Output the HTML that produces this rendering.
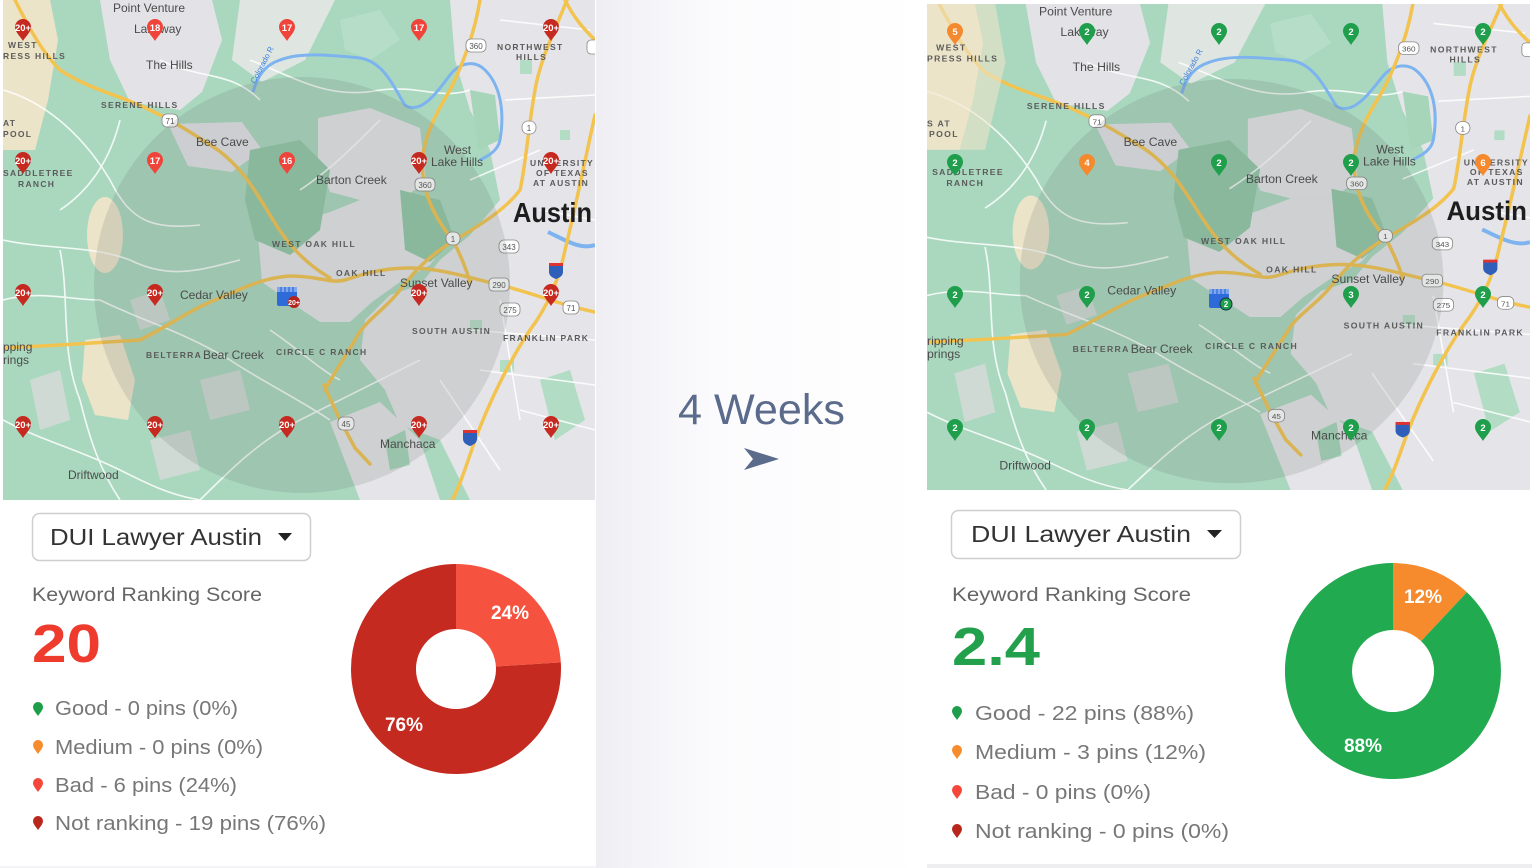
<!DOCTYPE html>
<html><head><meta charset="utf-8"><style>
html,body{margin:0;padding:0;background:#fff;}
svg{display:block;}
text{font-family:"Liberation Sans",Arial,sans-serif;}
.ml{font-size:12px;fill:#4b4b4b;}
.sc{font-size:8.5px;fill:#5b5b5b;font-weight:bold;letter-spacing:1.3px;}
.pt{font-size:9.5px;fill:#fff;font-weight:bold;text-anchor:middle;}
.sh{font-size:8px;fill:#555;text-anchor:middle;}
</style></head><body>
<svg width="1532" height="868" viewBox="0 0 1532 868" xmlns="http://www.w3.org/2000/svg">
<defs>
<linearGradient id="mid" x1="0" x2="1" y1="0" y2="0">
<stop offset="0" stop-color="#efeef3"/><stop offset="0.35" stop-color="#fbfbfd"/><stop offset="1" stop-color="#ffffff"/>
</linearGradient>
<clipPath id="mc" clipPathUnits="userSpaceOnUse"><rect x="3" y="0" width="592" height="500"/></clipPath>
<g id="shapes">
<rect x="3" y="0" width="592" height="500" fill="#aad8bf"/>
<!-- tan -->
<path d="M3,0 L50,0 L58,40 L48,100 L35,150 L3,150 Z" fill="#ece4c9"/>
<ellipse cx="105" cy="235" rx="18" ry="38" fill="#ece4c9"/>
<path d="M85,340 L120,335 L135,380 L128,420 L95,415 L82,380 Z" fill="#ece4c9"/>
<path d="M530,465 L565,455 L578,500 L525,500 Z" fill="#ece4c9"/>
<!-- gray urban -->
<path d="M450,0 L595,0 L595,500 L470,500 L455,470 L440,440 L400,425 L385,390 L360,360 L365,320 L390,295 L420,285 L440,260 L470,235 L500,200 L490,150 L470,110 L455,60 Z" fill="#e5e5e9"/>
<path d="M258,235 L300,222 L330,212 L360,200 L400,200 L430,220 L445,245 L430,265 L400,282 L372,302 L350,322 L320,322 L290,302 L262,282 Z" fill="#e5e5e9"/>
<path d="M318,118 L370,108 L420,128 L426,182 L400,200 L360,200 L330,192 L318,160 Z" fill="#e5e5e9"/>
<path d="M100,0 L212,0 L222,40 L202,92 L180,110 L130,102 L110,60 Z" fill="#e3e3e7"/>
<path d="M168,124 L242,122 L262,150 L232,172 L188,166 Z" fill="#e3e3e7"/>
<path d="M240,0 L335,0 L305,60 L262,82 L232,60 Z" fill="#dfe6e2"/>
<path d="M330,422 L380,402 L420,440 L440,500 L360,500 Z" fill="#e5e5e9"/>
<path d="M130,300 L160,290 L170,320 L140,330 Z" fill="#cfdad4"/>
<path d="M200,380 L240,370 L250,410 L210,420 Z" fill="#cfdad4"/>
<path d="M30,380 L60,370 L70,420 L40,430 Z" fill="#cfdad4"/>
<path d="M150,440 L190,430 L200,470 L160,480 Z" fill="#cfdad4"/>
<!-- green patches -->
<path d="M250,150 L300,140 L330,170 L320,230 L290,255 L255,240 L245,200 Z" fill="#93c8a8"/>
<path d="M400,190 L440,200 L455,240 L430,262 L405,250 Z" fill="#93c8a8"/>
<path d="M470,90 L495,95 L500,140 L478,150 Z" fill="#a6d5ba"/>
<path d="M540,380 L570,370 L585,420 L555,440 Z" fill="#b2dcc4"/>
<path d="M385,440 L405,430 L410,465 L390,470 Z" fill="#a6d5ba"/>
<path d="M340,20 L380,10 L400,40 L370,60 L345,50 Z" fill="#b6ddc7"/>
<rect x="560" y="130" width="10" height="10" fill="#b2dcc4"/>
<rect x="520" y="60" width="12" height="14" fill="#b2dcc4"/>
<rect x="500" y="360" width="14" height="12" fill="#b2dcc4"/>
<rect x="470" y="320" width="12" height="12" fill="#b8dec8"/>
<!-- white minor roads -->
<g fill="none" stroke="#ffffff" stroke-width="1.6" opacity="0.85">
<path d="M3,240 C50,250 90,245 130,260 C170,280 200,270 240,260"/>
<path d="M100,300 C140,320 180,330 230,360 C260,380 300,400 330,420"/>
<path d="M3,420 C40,440 80,450 120,470 C150,485 170,495 200,500"/>
<path d="M200,500 C230,470 260,440 300,420 C340,400 380,380 420,360"/>
<path d="M250,60 C300,80 330,100 380,90 C420,85 440,100 470,90"/>
<path d="M60,250 C70,300 60,350 80,400 C90,440 100,470 120,500"/>
<path d="M380,120 C350,150 330,170 300,190"/>
<path d="M3,90 C40,100 80,130 110,180 C130,220 150,230 200,225"/>
<path d="M120,120 C110,160 90,190 60,210"/>
<path d="M270,330 C300,350 320,370 340,380"/>
<path d="M470,330 L595,340 M480,370 L595,385 M500,300 L520,420 M540,210 L595,220 M470,180 L540,150 M520,410 L595,430 M440,380 L500,470 M500,20 L590,30 M505,100 L595,95"/>
<path d="M160,60 C200,80 230,70 260,100"/>
<path d="M3,300 C40,290 70,300 100,300"/>
</g>
<!-- river -->
<path d="M253,92 C258,75 265,65 280,60 C300,52 330,55 360,58 C385,62 395,90 405,105 C420,115 435,95 450,75 C460,62 475,60 485,70 C500,85 505,110 500,140 C498,150 490,155 480,160" fill="none" stroke="#7db3ef" stroke-width="3"/>
<path d="M548,232 C565,240 580,250 595,245" fill="none" stroke="#7db3ef" stroke-width="4"/>
<!-- yellow roads -->
<g fill="none" stroke="#f3c350" stroke-width="3.5" stroke-linecap="round">
<path d="M3,348 L60,345 L140,340 C170,325 190,310 215,300 C240,290 260,278 290,276 C320,276 330,284 345,280 C360,275 380,268 410,268 C440,268 470,278 500,285 C530,292 560,305 595,312"/>
<path d="M15,0 C25,20 40,50 60,70 C90,90 120,95 150,110 C175,122 195,135 215,148 C240,165 255,190 270,215 C285,240 300,260 330,278"/>
<path d="M567,0 C555,30 540,60 535,90 C528,130 525,170 520,190 C505,210 480,225 455,240 C430,255 415,270 400,290 C385,310 365,320 355,340 C340,365 330,380 325,390"/>
<path d="M324,385 L340,420 L355,448 L370,464"/>
<path d="M480,0 C475,30 465,60 450,90 C435,115 425,135 422,160 C422,190 432,215 453,240 C460,255 465,265 470,282"/>
<path d="M595,115 C585,160 575,210 565,250 C558,285 545,310 530,330 C510,360 490,400 475,440 C465,470 458,490 452,500"/>
<path d="M565,0 C575,20 585,30 595,40"/>
</g>
<!-- shields -->
<g fill="#fff" stroke="#888" stroke-width="0.8">
<rect x="162" y="114" width="16" height="13" rx="5"/>
<rect x="466" y="39" width="20" height="13" rx="5"/>
<rect x="522" y="121" width="14" height="13" rx="6"/>
<rect x="415" y="178" width="20" height="13" rx="5"/>
<rect x="446" y="232" width="14" height="13" rx="6"/>
<rect x="499" y="240" width="20" height="13" rx="5"/>
<rect x="489" y="278" width="20" height="13" rx="4"/>
<rect x="500" y="303" width="20" height="13" rx="5"/>
<rect x="563" y="301" width="16" height="13" rx="5"/>
<rect x="338" y="417" width="16" height="13" rx="5"/>
<rect x="587" y="40" width="12" height="14" rx="4"/>
</g>
<path d="M549,264 h14 v8 c0,4 -4,6 -7,7 c-3,-1 -7,-3 -7,-7 Z" fill="#2f5fb8"/>
<rect x="549" y="263" width="14" height="3" fill="#d33"/>
<path d="M463,431 h14 v8 c0,4 -4,6 -7,7 c-3,-1 -7,-3 -7,-7 Z" fill="#2f5fb8"/>
<rect x="463" y="430" width="14" height="3" fill="#d33"/>
<!-- circle -->
<circle cx="302" cy="285" r="208" fill="#5d6862" opacity="0.17"/>
</g>
</defs>

<!-- backgrounds -->
<rect x="0" y="0" width="1532" height="868" fill="#ffffff"/>
<rect x="596" y="0" width="331" height="868" fill="url(#mid)"/>
<rect x="927" y="864" width="605" height="4" fill="#eeeef1"/>
<rect x="0" y="866" width="596" height="2" fill="#f4f4f6"/>

<!-- LEFT MAP -->
<g clip-path="url(#mc)">
<use href="#shapes"/>
<g>
<text class="ml" x="113" y="12">Point Venture</text>
<text class="ml" x="134" y="33">Lakeway</text>
<text class="ml" x="146" y="69">The Hills</text>
<text class="sc" x="101" y="108">SERENE HILLS</text>
<text class="sc" x="8" y="48">WEST</text>
<text class="sc" x="3" y="59">RESS HILLS</text>
<text class="sc" x="3" y="126">AT</text>
<text class="sc" x="3" y="137">POOL</text>
<text class="sc" x="3" y="176">SADDLETREE</text>
<text class="sc" x="18" y="187">RANCH</text>
<text class="ml" x="196" y="146">Bee Cave</text>
<text class="ml" x="316" y="184">Barton Creek</text>
<text class="ml" x="444" y="154">West</text>
<text class="ml" x="431" y="166">Lake Hills</text>
<text class="sc" x="497" y="50">NORTHWEST</text>
<text class="sc" x="516" y="60">HILLS</text>
<text class="sc" x="530" y="166">UNIVERSITY</text>
<text class="sc" x="536" y="176">OF TEXAS</text>
<text class="sc" x="533" y="186">AT AUSTIN</text>
<text x="513" y="222" font-size="28" fill="#1d1d1d" font-weight="bold" textLength="79" lengthAdjust="spacingAndGlyphs">Austin</text>
<text class="sc" x="272" y="247">WEST OAK HILL</text>
<text class="sc" x="336" y="276">OAK HILL</text>
<text class="ml" x="400" y="287">Sunset Valley</text>
<text class="ml" x="180" y="299">Cedar Valley</text>
<text class="sc" x="412" y="334">SOUTH AUSTIN</text>
<text class="sc" x="503" y="341">FRANKLIN PARK</text>
<text class="ml" x="3" y="351">pping</text>
<text class="ml" x="3" y="364">rings</text>
<text class="sc" x="146" y="358">BELTERRA</text>
<text class="ml" x="203" y="359">Bear Creek</text>
<text class="sc" x="276" y="355">CIRCLE C RANCH</text>
<text class="ml" x="380" y="448">Manchaca</text>
<text class="ml" x="68" y="479">Driftwood</text>
<text x="255" y="84" font-size="8" fill="#3f7fd8" transform="rotate(-62 255 84)">Colorado R</text>
<text class="sh" x="170" y="124">71</text><text class="sh" x="476" y="49">360</text><text class="sh" x="529" y="131">1</text>
<text class="sh" x="425" y="188">360</text><text class="sh" x="453" y="242">1</text><text class="sh" x="509" y="250">343</text>
<text class="sh" x="499" y="288">290</text><text class="sh" x="510" y="313">275</text><text class="sh" x="571" y="311">71</text>
<text class="sh" x="346" y="427">45</text>
</g>
</g>

<!-- LEFT PINS -->
<g>
<g fill="#c5291f">
<path d="M15,27 a8,8 0 1 1 16,0 c0,5 -5,9 -8,14 c-3,-5 -8,-9 -8,-14z"/>
<path d="M543,27 a8,8 0 1 1 16,0 c0,5 -5,9 -8,14 c-3,-5 -8,-9 -8,-14z"/>
<path d="M15,160 a8,8 0 1 1 16,0 c0,5 -5,9 -8,14 c-3,-5 -8,-9 -8,-14z"/>
<path d="M411,160 a8,8 0 1 1 16,0 c0,5 -5,9 -8,14 c-3,-5 -8,-9 -8,-14z"/>
<path d="M543,160 a8,8 0 1 1 16,0 c0,5 -5,9 -8,14 c-3,-5 -8,-9 -8,-14z"/>
<path d="M15,292 a8,8 0 1 1 16,0 c0,5 -5,9 -8,14 c-3,-5 -8,-9 -8,-14z"/>
<path d="M147,292 a8,8 0 1 1 16,0 c0,5 -5,9 -8,14 c-3,-5 -8,-9 -8,-14z"/>
<path d="M411,292 a8,8 0 1 1 16,0 c0,5 -5,9 -8,14 c-3,-5 -8,-9 -8,-14z"/>
<path d="M543,292 a8,8 0 1 1 16,0 c0,5 -5,9 -8,14 c-3,-5 -8,-9 -8,-14z"/>
<path d="M15,424 a8,8 0 1 1 16,0 c0,5 -5,9 -8,14 c-3,-5 -8,-9 -8,-14z"/>
<path d="M147,424 a8,8 0 1 1 16,0 c0,5 -5,9 -8,14 c-3,-5 -8,-9 -8,-14z"/>
<path d="M279,424 a8,8 0 1 1 16,0 c0,5 -5,9 -8,14 c-3,-5 -8,-9 -8,-14z"/>
<path d="M411,424 a8,8 0 1 1 16,0 c0,5 -5,9 -8,14 c-3,-5 -8,-9 -8,-14z"/>
<path d="M543,424 a8,8 0 1 1 16,0 c0,5 -5,9 -8,14 c-3,-5 -8,-9 -8,-14z"/>
</g>
<g fill="#f0443a">
<path d="M147,27 a8,8 0 1 1 16,0 c0,5 -5,9 -8,14 c-3,-5 -8,-9 -8,-14z"/>
<path d="M279,27 a8,8 0 1 1 16,0 c0,5 -5,9 -8,14 c-3,-5 -8,-9 -8,-14z"/>
<path d="M411,27 a8,8 0 1 1 16,0 c0,5 -5,9 -8,14 c-3,-5 -8,-9 -8,-14z"/>
<path d="M147,160 a8,8 0 1 1 16,0 c0,5 -5,9 -8,14 c-3,-5 -8,-9 -8,-14z"/>
<path d="M279,160 a8,8 0 1 1 16,0 c0,5 -5,9 -8,14 c-3,-5 -8,-9 -8,-14z"/>
</g>
<text class="pt" x="23" y="31">20+</text><text class="pt" x="155" y="31">18</text><text class="pt" x="287" y="31">17</text><text class="pt" x="419" y="31">17</text><text class="pt" x="551" y="31">20+</text>
<text class="pt" x="23" y="164">20+</text><text class="pt" x="155" y="164">17</text><text class="pt" x="287" y="164">16</text><text class="pt" x="419" y="164">20+</text><text class="pt" x="551" y="164">20+</text>
<text class="pt" x="23" y="296">20+</text><text class="pt" x="155" y="296">20+</text><text class="pt" x="419" y="296">20+</text><text class="pt" x="551" y="296">20+</text>
<text class="pt" x="23" y="428">20+</text><text class="pt" x="155" y="428">20+</text><text class="pt" x="287" y="428">20+</text><text class="pt" x="419" y="428">20+</text><text class="pt" x="551" y="428">20+</text>
<!-- store -->
<rect x="277" y="287" width="20" height="19" rx="2" fill="#2f6bd8"/>
<path d="M277,287 h20 v5 h-20z" fill="#7fa6ee"/>
<path d="M281,287 v5 M285,287 v5 M289,287 v5 M293,287 v5" stroke="#2f6bd8" stroke-width="1.2"/>
<circle cx="294" cy="302" r="6" fill="#b3241c"/>
<text x="294" y="305" font-size="7" fill="#fff" font-weight="bold" text-anchor="middle">20+</text>
</g>

<!-- RIGHT MAP -->
<g transform="translate(927,4) scale(1.0186,0.972) translate(-3,0)">
<g clip-path="url(#mc)">
<use href="#shapes"/>
<path d="M3,0 L70,0 L80,60 L60,150 L3,150 Z" fill="#ece4c9" opacity="0.6"/>
<text class="ml" x="113" y="12">Point Venture</text>
<text class="ml" x="134" y="33">Lakeway</text>
<text class="ml" x="146" y="69">The Hills</text>
<text class="sc" x="101" y="108">SERENE HILLS</text>
<text class="sc" x="12" y="48">WEST</text>
<text class="sc" x="3" y="59">PRESS HILLS</text>
<text class="sc" x="3" y="126">S AT</text>
<text class="sc" x="5" y="137">POOL</text>
<text class="sc" x="8" y="176">SADDLETREE</text>
<text class="sc" x="22" y="187">RANCH</text>
<text class="ml" x="196" y="146">Bee Cave</text>
<text class="ml" x="316" y="184">Barton Creek</text>
<text class="ml" x="444" y="154">West</text>
<text class="ml" x="431" y="166">Lake Hills</text>
<text class="sc" x="497" y="50">NORTHWEST</text>
<text class="sc" x="516" y="60">HILLS</text>
<text class="sc" x="530" y="166">UNIVERSITY</text>
<text class="sc" x="536" y="176">OF TEXAS</text>
<text class="sc" x="533" y="186">AT AUSTIN</text>
<text x="513" y="222" font-size="28" fill="#1d1d1d" font-weight="bold" textLength="79" lengthAdjust="spacingAndGlyphs">Austin</text>
<text class="sc" x="272" y="247">WEST OAK HILL</text>
<text class="sc" x="336" y="276">OAK HILL</text>
<text class="ml" x="400" y="287">Sunset Valley</text>
<text class="ml" x="180" y="299">Cedar Valley</text>
<text class="sc" x="412" y="334">SOUTH AUSTIN</text>
<text class="sc" x="503" y="341">FRANKLIN PARK</text>
<text class="ml" x="3" y="351">ripping</text>
<text class="ml" x="3" y="364">prings</text>
<text class="sc" x="146" y="358">BELTERRA</text>
<text class="ml" x="203" y="359">Bear Creek</text>
<text class="sc" x="276" y="355">CIRCLE C RANCH</text>
<text class="ml" x="380" y="448">Manchaca</text>
<text class="ml" x="74" y="479">Driftwood</text>
<text x="255" y="84" font-size="8" fill="#3f7fd8" transform="rotate(-62 255 84)">Colorado R</text>
<text class="sh" x="170" y="124">71</text><text class="sh" x="476" y="49">360</text><text class="sh" x="529" y="131">1</text>
<text class="sh" x="425" y="188">360</text><text class="sh" x="453" y="242">1</text><text class="sh" x="509" y="250">343</text>
<text class="sh" x="499" y="288">290</text><text class="sh" x="510" y="313">275</text><text class="sh" x="571" y="311">71</text>
<text class="sh" x="346" y="427">45</text>
</g>
</g>

<!-- RIGHT PINS -->
<g>
<g fill="#1f9e4b">
<path d="M1079,31 a8,8 0 1 1 16,0 c0,5 -5,9 -8,14 c-3,-5 -8,-9 -8,-14z"/>
<path d="M1211,31 a8,8 0 1 1 16,0 c0,5 -5,9 -8,14 c-3,-5 -8,-9 -8,-14z"/>
<path d="M1343,31 a8,8 0 1 1 16,0 c0,5 -5,9 -8,14 c-3,-5 -8,-9 -8,-14z"/>
<path d="M1475,31 a8,8 0 1 1 16,0 c0,5 -5,9 -8,14 c-3,-5 -8,-9 -8,-14z"/>
<path d="M947,162 a8,8 0 1 1 16,0 c0,5 -5,9 -8,14 c-3,-5 -8,-9 -8,-14z"/>
<path d="M1211,162 a8,8 0 1 1 16,0 c0,5 -5,9 -8,14 c-3,-5 -8,-9 -8,-14z"/>
<path d="M1343,162 a8,8 0 1 1 16,0 c0,5 -5,9 -8,14 c-3,-5 -8,-9 -8,-14z"/>
<path d="M947,294 a8,8 0 1 1 16,0 c0,5 -5,9 -8,14 c-3,-5 -8,-9 -8,-14z"/>
<path d="M1079,294 a8,8 0 1 1 16,0 c0,5 -5,9 -8,14 c-3,-5 -8,-9 -8,-14z"/>
<path d="M1343,294 a8,8 0 1 1 16,0 c0,5 -5,9 -8,14 c-3,-5 -8,-9 -8,-14z"/>
<path d="M1475,294 a8,8 0 1 1 16,0 c0,5 -5,9 -8,14 c-3,-5 -8,-9 -8,-14z"/>
<path d="M947,427 a8,8 0 1 1 16,0 c0,5 -5,9 -8,14 c-3,-5 -8,-9 -8,-14z"/>
<path d="M1079,427 a8,8 0 1 1 16,0 c0,5 -5,9 -8,14 c-3,-5 -8,-9 -8,-14z"/>
<path d="M1211,427 a8,8 0 1 1 16,0 c0,5 -5,9 -8,14 c-3,-5 -8,-9 -8,-14z"/>
<path d="M1343,427 a8,8 0 1 1 16,0 c0,5 -5,9 -8,14 c-3,-5 -8,-9 -8,-14z"/>
<path d="M1475,427 a8,8 0 1 1 16,0 c0,5 -5,9 -8,14 c-3,-5 -8,-9 -8,-14z"/>
</g>
<g fill="#f5892d">
<path d="M947,31 a8,8 0 1 1 16,0 c0,5 -5,9 -8,14 c-3,-5 -8,-9 -8,-14z"/>
<path d="M1079,162 a8,8 0 1 1 16,0 c0,5 -5,9 -8,14 c-3,-5 -8,-9 -8,-14z"/>
<path d="M1475,162 a8,8 0 1 1 16,0 c0,5 -5,9 -8,14 c-3,-5 -8,-9 -8,-14z"/>
</g>
<text class="pt" x="955" y="35">5</text><text class="pt" x="1087" y="35">2</text><text class="pt" x="1219" y="35">2</text><text class="pt" x="1351" y="35">2</text><text class="pt" x="1483" y="35">2</text>
<text class="pt" x="955" y="166">2</text><text class="pt" x="1087" y="166">4</text><text class="pt" x="1219" y="166">2</text><text class="pt" x="1351" y="166">2</text><text class="pt" x="1483" y="166">6</text>
<text class="pt" x="955" y="298">2</text><text class="pt" x="1087" y="298">2</text><text class="pt" x="1351" y="298">3</text><text class="pt" x="1483" y="298">2</text>
<text class="pt" x="955" y="431">2</text><text class="pt" x="1087" y="431">2</text><text class="pt" x="1219" y="431">2</text><text class="pt" x="1351" y="431">2</text><text class="pt" x="1483" y="431">2</text>
<rect x="1209" y="289" width="20" height="19" rx="2" fill="#2f6bd8"/>
<path d="M1209,289 h20 v5 h-20z" fill="#7fa6ee"/>
<path d="M1213,289 v5 M1217,289 v5 M1221,289 v5 M1225,289 v5" stroke="#2f6bd8" stroke-width="1.2"/>
<circle cx="1226" cy="304" r="6" fill="#1f9e4b" stroke="#134" stroke-width="1"/>
<text x="1226" y="307" font-size="8" fill="#fff" font-weight="bold" text-anchor="middle">2</text>
</g>

<!-- MIDDLE -->
<text x="678" y="424" font-size="43" fill="#5b6b8c" textLength="167" lengthAdjust="spacingAndGlyphs">4 Weeks</text>
<path d="M744,448 L779,459 L744,470 L753,459 Z" fill="#5b6b8c"/>

<!-- LEFT BOTTOM -->
<rect x="32.5" y="513.5" width="278" height="47" rx="7" fill="#fff" stroke="#cfcfd3" stroke-width="1.5"/>
<text x="50" y="545" font-size="23" fill="#333" textLength="212" lengthAdjust="spacingAndGlyphs">DUI Lawyer Austin</text>
<path d="M278,533 L292,533 L285,541 Z" fill="#222"/>
<text x="32" y="601" font-size="19" fill="#666" textLength="230" lengthAdjust="spacingAndGlyphs">Keyword Ranking Score</text>
<text x="32" y="662" font-size="54" fill="#ee3b2d" font-weight="bold" textLength="69" lengthAdjust="spacingAndGlyphs">20</text>
<g>
<path d="M33,707 a5,5 0 1 1 10,0 c0,3 -3,6 -5,9 c-2,-3 -5,-6 -5,-9z" fill="#1e9e4a"/>
<path d="M33,745 a5,5 0 1 1 10,0 c0,3 -3,6 -5,9 c-2,-3 -5,-6 -5,-9z" fill="#f78c2c"/>
<path d="M33,783 a5,5 0 1 1 10,0 c0,3 -3,6 -5,9 c-2,-3 -5,-6 -5,-9z" fill="#f4473a"/>
<path d="M33,821 a5,5 0 1 1 10,0 c0,3 -3,6 -5,9 c-2,-3 -5,-6 -5,-9z" fill="#b9261c"/>
</g>
<text x="55" y="715" font-size="20" fill="#777" textLength="183" lengthAdjust="spacingAndGlyphs">Good - 0 pins (0%)</text>
<text x="55" y="754" font-size="20" fill="#777" textLength="208" lengthAdjust="spacingAndGlyphs">Medium - 0 pins (0%)</text>
<text x="55" y="792" font-size="20" fill="#777" textLength="182" lengthAdjust="spacingAndGlyphs">Bad - 6 pins (24%)</text>
<text x="55" y="830" font-size="20" fill="#777" textLength="271" lengthAdjust="spacingAndGlyphs">Not ranking - 19 pins (76%)</text>
<path d="M456,564 A105,105 0 0 1 560.8,662.4 L495.9,666.5 A40,40 0 0 0 456,629 Z" fill="#f5533f"/>
<path d="M560.8,662.4 A105,105 0 1 1 456,564 L456,629 A40,40 0 1 0 495.9,666.5 Z" fill="#c52a20"/>
<text x="510" y="619" font-size="19" fill="#fff" font-weight="bold" text-anchor="middle">24%</text>
<text x="404" y="731" font-size="19" fill="#fff" font-weight="bold" text-anchor="middle">76%</text>

<!-- RIGHT BOTTOM -->
<rect x="951.5" y="510.5" width="289" height="48" rx="7" fill="#fff" stroke="#cfcfd3" stroke-width="1.5"/>
<text x="971" y="542" font-size="23" fill="#333" textLength="220" lengthAdjust="spacingAndGlyphs">DUI Lawyer Austin</text>
<path d="M1207,530 L1222,530 L1214.5,538 Z" fill="#222"/>
<text x="952" y="601" font-size="19" fill="#666" textLength="239" lengthAdjust="spacingAndGlyphs">Keyword Ranking Score</text>
<text x="952" y="665" font-size="54" fill="#22a04b" font-weight="bold" textLength="88" lengthAdjust="spacingAndGlyphs">2.4</text>
<g>
<path d="M952,711 a5,5 0 1 1 10,0 c0,3 -3,6 -5,9 c-2,-3 -5,-6 -5,-9z" fill="#1e9e4a"/>
<path d="M952,750 a5,5 0 1 1 10,0 c0,3 -3,6 -5,9 c-2,-3 -5,-6 -5,-9z" fill="#f78c2c"/>
<path d="M952,790 a5,5 0 1 1 10,0 c0,3 -3,6 -5,9 c-2,-3 -5,-6 -5,-9z" fill="#f4473a"/>
<path d="M952,829 a5,5 0 1 1 10,0 c0,3 -3,6 -5,9 c-2,-3 -5,-6 -5,-9z" fill="#b9261c"/>
</g>
<text x="975" y="720" font-size="20" fill="#777" textLength="219" lengthAdjust="spacingAndGlyphs">Good - 22 pins (88%)</text>
<text x="975" y="759" font-size="20" fill="#777" textLength="231" lengthAdjust="spacingAndGlyphs">Medium - 3 pins (12%)</text>
<text x="975" y="799" font-size="20" fill="#777" textLength="176" lengthAdjust="spacingAndGlyphs">Bad - 0 pins (0%)</text>
<text x="975" y="838" font-size="20" fill="#777" textLength="254" lengthAdjust="spacingAndGlyphs">Not ranking - 0 pins (0%)</text>
<path d="M1393,563 A108,108 0 0 1 1466.9,592.3 L1421.1,641.1 A41,41 0 0 0 1393,630 Z" fill="#f68b2d"/>
<path d="M1466.9,592.3 A108,108 0 1 1 1393,563 L1393,630 A41,41 0 1 0 1421.1,641.1 Z" fill="#22aa50"/>
<text x="1423" y="603" font-size="19" fill="#fff" font-weight="bold" text-anchor="middle">12%</text>
<text x="1363" y="752" font-size="19" fill="#fff" font-weight="bold" text-anchor="middle">88%</text>
</svg>
</body></html>
